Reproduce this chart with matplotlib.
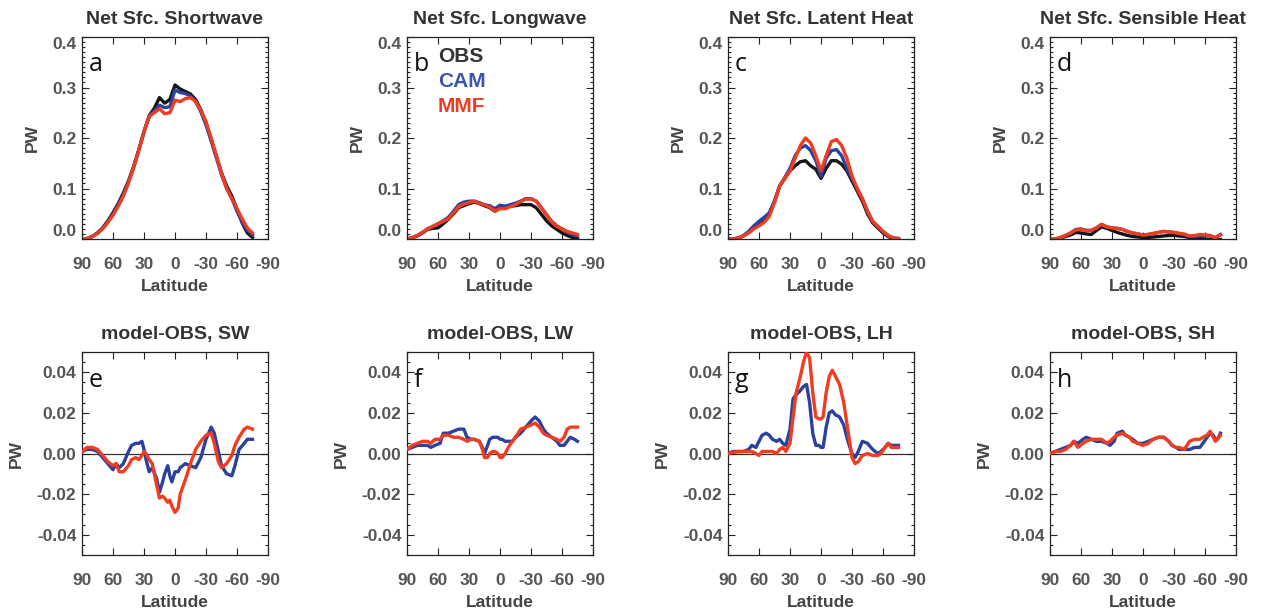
import matplotlib
matplotlib.use("Agg")
import matplotlib.pyplot as plt
from matplotlib.ticker import MultipleLocator

# ---------------- data ----------------
lat_top = [90, 85, 80, 75, 70, 65, 60, 55, 50, 45, 40, 35, 30, 25, 20, 15, 10, 5, 0,
           -5, -10, -15, -20, -25, -30, -35, -40, -45, -50, -55, -60, -65, -70, -75]

obs_sw = [-0.002, 0.001, 0.005, 0.012, 0.022, 0.036, 0.052, 0.070, 0.091, 0.115, 0.144, 0.177, 0.213, 0.244, 0.259,
          0.280, 0.269, 0.276, 0.305, 0.297, 0.292, 0.287, 0.276, 0.256, 0.230, 0.197, 0.164, 0.131, 0.105, 0.085,
          0.059, 0.032, 0.012, 0.003]
cam_sw = [-0.002, 0.001, 0.005, 0.012, 0.021, 0.034, 0.049, 0.067, 0.087, 0.112, 0.142, 0.176, 0.212, 0.242, 0.254,
          0.265, 0.260, 0.262, 0.295, 0.290, 0.288, 0.283, 0.272, 0.252, 0.226, 0.194, 0.161, 0.127, 0.100, 0.080,
          0.055, 0.034, 0.018, 0.008]
mmf_sw = [-0.002, 0.001, 0.005, 0.011, 0.020, 0.033, 0.047, 0.065, 0.085, 0.111, 0.142, 0.176, 0.212, 0.243, 0.250,
          0.258, 0.248, 0.250, 0.275, 0.272, 0.278, 0.280, 0.272, 0.255, 0.232, 0.200, 0.165, 0.130, 0.100, 0.080,
          0.060, 0.040, 0.022, 0.012]

obs_lw = [0.000, 0.002, 0.006, 0.012, 0.019, 0.021, 0.022, 0.030, 0.039, 0.050, 0.062, 0.066, 0.070, 0.073, 0.070,
          0.066, 0.062, 0.055, 0.062, 0.063, 0.065, 0.066, 0.068, 0.068, 0.068, 0.062, 0.049, 0.036, 0.026, 0.019,
          0.012, 0.007, 0.003, 0.001]
cam_lw = [0.000, 0.003, 0.007, 0.013, 0.020, 0.025, 0.030, 0.036, 0.043, 0.055, 0.068, 0.073, 0.075, 0.075, 0.072,
          0.068, 0.066, 0.060, 0.067, 0.065, 0.068, 0.071, 0.075, 0.080, 0.080, 0.075, 0.062, 0.048, 0.035, 0.026,
          0.020, 0.014, 0.009, 0.006]
mmf_lw = [0.000, 0.003, 0.007, 0.013, 0.020, 0.025, 0.030, 0.035, 0.040, 0.052, 0.064, 0.069, 0.072, 0.075, 0.070,
          0.068, 0.063, 0.055, 0.060, 0.060, 0.064, 0.068, 0.074, 0.079, 0.079, 0.075, 0.062, 0.048, 0.034, 0.025,
          0.020, 0.015, 0.012, 0.009]

obs_lh = [0.000, 0.000, 0.002, 0.006, 0.013, 0.022, 0.030, 0.037, 0.050, 0.075, 0.105, 0.120, 0.135, 0.145, 0.153,
          0.155, 0.145, 0.138, 0.120, 0.140, 0.155, 0.155, 0.148, 0.135, 0.115, 0.095, 0.075, 0.050, 0.032, 0.022,
          0.012, 0.005, 0.000, -0.001]
cam_lh = [0.000, 0.000, 0.002, 0.007, 0.015, 0.026, 0.035, 0.043, 0.052, 0.075, 0.105, 0.122, 0.140, 0.165, 0.180,
          0.185, 0.175, 0.155, 0.124, 0.160, 0.175, 0.177, 0.165, 0.140, 0.120, 0.100, 0.080, 0.055, 0.035, 0.025,
          0.015, 0.007, 0.002, 0.001]
mmf_lh = [0.000, 0.000, 0.002, 0.006, 0.012, 0.020, 0.026, 0.033, 0.045, 0.072, 0.105, 0.120, 0.135, 0.160, 0.185,
          0.200, 0.190, 0.165, 0.135, 0.165, 0.193, 0.197, 0.185, 0.160, 0.125, 0.100, 0.080, 0.055, 0.035, 0.025,
          0.015, 0.007, 0.002, 0.001]

obs_sh = [-0.001, 0.000, 0.002, 0.005, 0.008, 0.013, 0.012, 0.010, 0.009, 0.017, 0.024, 0.021, 0.017, 0.013, 0.010,
          0.007, 0.005, 0.004, 0.003, 0.003, 0.004, 0.005, 0.006, 0.007, 0.007, 0.006, 0.005, 0.003, 0.002, 0.001,
          0.000, -0.001, -0.002, -0.001]
cam_sh = [-0.001, 0.000, 0.003, 0.007, 0.012, 0.019, 0.020, 0.017, 0.017, 0.022, 0.029, 0.024, 0.022, 0.021, 0.019,
          0.015, 0.012, 0.010, 0.008, 0.009, 0.011, 0.013, 0.015, 0.014, 0.013, 0.011, 0.008, 0.005, 0.005, 0.006,
          0.007, 0.006, 0.003, 0.009]
mmf_sh = [-0.001, 0.000, 0.003, 0.007, 0.012, 0.018, 0.019, 0.017, 0.017, 0.022, 0.029, 0.024, 0.022, 0.021, 0.019,
          0.015, 0.012, 0.010, 0.008, 0.009, 0.011, 0.013, 0.015, 0.014, 0.013, 0.011, 0.010, 0.006, 0.007, 0.009,
          0.008, 0.007, 0.002, 0.008]

# model - OBS differences
lat_e = [90, 85, 80, 75, 70, 65, 60, 57, 54, 50, 45, 42, 38, 35, 32, 30, 28, 25, 22, 18, 15, 12, 10, 7, 5, 3, 0,
         -3, -5, -10, -15, -20, -25, -30, -35, -38, -42, -45, -50, -55, -58, -62, -67, -70, -75]
cam_d_sw = [0.001, 0.002, 0.002, 0.001, -0.002, -0.005, -0.008, -0.005, -0.007, -0.005, 0.001, 0.004, 0.005, 0.005,
            0.006, 0.002, -0.003, -0.009, -0.007, -0.012, -0.019, -0.014, -0.010, -0.006, -0.011, -0.014, -0.009,
            -0.009, -0.007, -0.005, -0.006, -0.007, -0.002, 0.007, 0.013, 0.010, 0.001, -0.006, -0.010, -0.011,
            -0.006, 0.002, 0.005, 0.007, 0.007]
mmf_d_sw = [0.001, 0.003, 0.003, 0.002, -0.001, -0.004, -0.006, -0.005, -0.009, -0.009, -0.006, -0.003, -0.002,
            -0.003, -0.001, 0.001, 0.000, -0.003, -0.005, -0.015, -0.022, -0.021, -0.022, -0.024, -0.023, -0.026,
            -0.029, -0.027, -0.020, -0.013, -0.005, 0.002, 0.006, 0.009, 0.010, 0.005, -0.004, -0.007, -0.005,
            -0.001, 0.004, 0.008, 0.012, 0.013, 0.012]

lat_f = [90, 85, 80, 75, 70, 67, 63, 58, 55, 50, 45, 40, 35, 32, 28, 25, 20, 17, 15, 12, 10, 7, 5, 2, 0, -2, -5,
         -8, -12, -15, -20, -25, -30, -34, -38, -42, -45, -50, -55, -58, -62, -65, -68, -72, -75]
cam_d_lw = [0.002, 0.003, 0.004, 0.004, 0.004, 0.003, 0.004, 0.005, 0.010, 0.010, 0.011, 0.012, 0.012, 0.008, 0.007,
            0.007, 0.006, 0.003, 0.000, 0.004, 0.007, 0.008, 0.008, 0.008, 0.007, 0.007, 0.006, 0.006, 0.006, 0.008,
            0.010, 0.013, 0.016, 0.018, 0.016, 0.012, 0.010, 0.008, 0.006, 0.004, 0.004, 0.006, 0.008, 0.007, 0.006]
mmf_d_lw = [0.002, 0.004, 0.005, 0.006, 0.006, 0.005, 0.007, 0.007, 0.009, 0.009, 0.008, 0.008, 0.007, 0.006, 0.007,
            0.007, 0.006, 0.002, -0.002, -0.002, 0.000, 0.001, 0.001, 0.000, -0.002, -0.002, 0.000, 0.003, 0.006,
            0.008, 0.012, 0.013, 0.014, 0.015, 0.013, 0.010, 0.009, 0.008, 0.007, 0.006, 0.008, 0.012, 0.013, 0.013,
            0.013]

lat_g = [90, 85, 80, 75, 70, 67, 63, 60, 57, 53, 50, 47, 43, 40, 37, 34, 30, 27, 24, 20, 17, 14, 11, 8, 5, 2, 0,
         -2, -5, -8, -11, -14, -18, -22, -25, -28, -30, -33, -36, -40, -45, -50, -55, -58, -62, -65, -68, -72, -75]
cam_d_lh = [0.000, 0.001, 0.001, 0.001, 0.002, 0.004, 0.003, 0.006, 0.009, 0.010, 0.009, 0.007, 0.006, 0.007, 0.005,
            0.004, 0.012, 0.027, 0.029, 0.031, 0.033, 0.034, 0.025, 0.010, 0.004, 0.004, 0.003, 0.003, 0.013, 0.020,
            0.021, 0.019, 0.018, 0.014, 0.008, 0.003, 0.000, -0.002, 0.001, 0.006, 0.005, 0.002, 0.000, 0.001, 0.003,
            0.005, 0.004, 0.004, 0.004]
mmf_d_lh = [0.000, 0.0005, 0.001, 0.001, 0.001, 0.001, 0.000, -0.001, 0.001, 0.001, 0.001, 0.001, 0.000, 0.002,
            0.003, 0.001, 0.005, 0.018, 0.030, 0.038, 0.045, 0.050, 0.047, 0.030, 0.018, 0.017, 0.017, 0.018, 0.030,
            0.038, 0.041, 0.038, 0.034, 0.025, 0.015, 0.005, -0.002, -0.005, -0.004, -0.001, 0.000, -0.001, -0.001,
            0.000, 0.003, 0.005, 0.003, 0.003, 0.003]

lat_h = [90, 85, 80, 75, 70, 67, 63, 58, 55, 50, 45, 40, 35, 32, 28, 25, 20, 17, 13, 10, 5, 0, -5, -10, -15, -20,
         -25, -28, -32, -35, -40, -45, -50, -55, -58, -62, -65, -68, -70, -72, -75]
cam_d_sh = [0.000, 0.001, 0.002, 0.003, 0.004, 0.006, 0.005, 0.007, 0.008, 0.007, 0.006, 0.006, 0.005, 0.004, 0.006,
            0.010, 0.011, 0.009, 0.008, 0.007, 0.005, 0.005, 0.006, 0.007, 0.008, 0.008, 0.006, 0.004, 0.003, 0.002,
            0.002, 0.002, 0.003, 0.003, 0.005, 0.008, 0.010, 0.009, 0.007, 0.007, 0.010]
mmf_d_sh = [0.000, 0.001, 0.001, 0.002, 0.004, 0.006, 0.003, 0.005, 0.006, 0.007, 0.007, 0.007, 0.005, 0.006, 0.008,
            0.009, 0.010, 0.009, 0.008, 0.006, 0.005, 0.004, 0.005, 0.007, 0.008, 0.008, 0.006, 0.004, 0.003, 0.003,
            0.002, 0.006, 0.007, 0.007, 0.008, 0.009, 0.011, 0.008, 0.006, 0.007, 0.009]

titles_top = ["Net Sfc. Shortwave", "Net Sfc. Longwave", "Net Sfc. Latent Heat", "Net Sfc. Sensible Heat"]
titles_bot = ["model-OBS, SW", "model-OBS, LW", "model-OBS, LH", "model-OBS, SH"]
letters_top = ["a", "b", "c", "d"]
letters_bot = ["e", "f", "g", "h"]
xticks = [90, 60, 30, 0, -30, -60, -90]
yticks_top = [0.0, 0.1, 0.2, 0.3, 0.4]
yticks_bot = [-0.04, -0.02, 0.00, 0.02, 0.04]
legend_names = ["OBS", "CAM", "MMF"]

# ---------------- style ----------------
C_OBS = "#151515"
C_CAM = "#2b41a0"
C_MMF = "#f23c1f"
TXT = "#333333"
TICK = "#555555"
FONT = "Liberation Sans"
LW = 2.4

W, H = 1265, 609
fig = plt.figure(figsize=(W / 100, H / 100), dpi=100)

lefts = [82, 407, 728, 1050]
aw = 186


def style_axis(ax, title, letter, yticks, ylim, yfmt, minor, nudge_ends):
    ax.set_xlim(90, -90)
    ax.set_ylim(*ylim)
    ax.set_xticks(xticks)
    ax.set_xticklabels([str(v) for v in xticks])
    ax.set_yticks(yticks)
    ax.set_yticklabels([yfmt.format(v) for v in yticks])
    ax.yaxis.set_minor_locator(MultipleLocator(minor))
    ax.tick_params(which="both", direction="in", top=True, right=True, color="#222222", width=0.8)
    ax.tick_params(which="major", length=5)
    ax.tick_params(which="minor", length=2.5)
    ax.tick_params(axis="x", pad=13)
    ax.tick_params(axis="y", pad=4)
    for lab in ax.get_xticklabels() + ax.get_yticklabels():
        lab.set_fontfamily(FONT)
        lab.set_fontweight("bold")
        lab.set_fontsize(12.5)
        lab.set_color(TICK)
    if nudge_ends:
        ylabs = ax.get_yticklabels()
        ylabs[0].set_va("bottom")
        ylabs[-1].set_va("top")
    for s in ax.spines.values():
        s.set_linewidth(0.9)
        s.set_color("#222222")
    ax.set_title(title, fontfamily=FONT, fontweight="bold", fontsize=14, color=TXT, pad=9)
    ax.set_xlabel("Latitude", fontfamily=FONT, fontweight="bold", fontsize=12.5, color="#444444", labelpad=5)
    ax.set_ylabel("PW", fontfamily=FONT, fontweight="bold", fontsize=12.5, color="#444444", labelpad=9)
    ax.text(0.035, 0.83, letter, transform=ax.transAxes, fontfamily="Open Sans", fontsize=18,
            color="#111111", va="baseline", ha="left")


top_data = [(obs_sw, cam_sw, mmf_sw), (obs_lw, cam_lw, mmf_lw), (obs_lh, cam_lh, mmf_lh), (obs_sh, cam_sh, mmf_sh)]
for i in range(4):
    ax = fig.add_axes([lefts[i] / W, 1 - 239 / H, aw / W, 202 / H])
    o, c, m = top_data[i]
    ax.plot(lat_top, o, color=C_OBS, lw=LW, solid_joinstyle="round")
    ax.plot(lat_top, c, color=C_CAM, lw=LW, solid_joinstyle="round")
    ax.plot(lat_top, m, color=C_MMF, lw=LW, solid_joinstyle="round")
    style_axis(ax, titles_top[i], letters_top[i], yticks_top, (0.0, 0.4), "{:.1f}", 0.01, True)
    if i == 1:
        for j, (name, col) in enumerate(zip(legend_names, [TXT, "#3a55b0", C_MMF])):
            ax.text(0.165, 0.875 - j * 0.123, name, transform=ax.transAxes, fontfamily=FONT,
                    fontweight="bold", fontsize=15, color=col, va="baseline", ha="left")

bot_data = [(lat_e, cam_d_sw, mmf_d_sw), (lat_f, cam_d_lw, mmf_d_lw), (lat_g, cam_d_lh, mmf_d_lh),
            (lat_h, cam_d_sh, mmf_d_sh)]
for i in range(4):
    ax = fig.add_axes([lefts[i] / W, 1 - 555 / H, aw / W, 203 / H])
    la, c, m = bot_data[i]
    ax.axhline(0, color="#333333", lw=0.9, zorder=1)
    ax.plot(la, c, color=C_CAM, lw=LW, solid_joinstyle="round", zorder=2)
    ax.plot(la, m, color=C_MMF, lw=LW, solid_joinstyle="round", zorder=3)
    style_axis(ax, titles_bot[i], letters_bot[i], yticks_bot, (-0.05, 0.05), "{:.2f}", 0.005, False)

fig.savefig("out.png", dpi=100)
